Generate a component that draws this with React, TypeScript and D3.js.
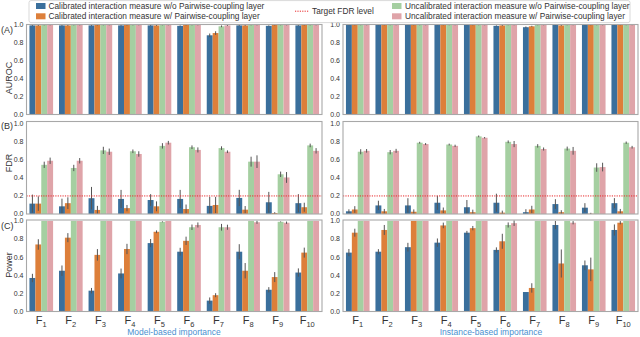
import React from "react";
import * as d3 from "d3";

const categories = ["1","2","3","4","5","6","7","8","9","10"];
const seriesNames = [
  "Calibrated interaction measure w/o Pairwise-coupling layer",
  "Calibrated interaction measure w/ Pairwise-coupling layer",
  "Uncalibrated interaction measure w/o Pairwise-coupling layer",
  "Uncalibrated interaction measure w/ Pairwise-coupling layer",
];
const seriesColors = ["#3a6f9c", "#dd7f3a", "#a5cfa1", "#dfa4a9"];
const yTicks = [0, 0.2, 0.4, 0.6, 0.8, 1.0];
const targetFDR = 0.2;

// Model-based (left) — AUROC
const aurocModel = [
  [0.99,0.99,0.99,0.99,0.99,0.985,0.88,0.99,0.985,0.99],
  [0.99,0.99,0.995,0.995,0.99,0.995,0.905,0.99,0.995,0.995],
  [0.995,0.995,0.995,0.995,0.995,0.995,0.98,0.995,0.995,0.995],
  [0.995,0.995,0.995,0.995,0.995,0.995,0.99,0.995,0.995,0.995],
];
const aurocModelErr = [
  [0.005,0.005,0.005,0.005,0.005,0.005,0.02,0.005,0.005,0.005],
  [0.005,0.005,0.005,0.005,0.005,0.005,0.02,0.005,0.005,0.005],
  [0.004,0.004,0.004,0.004,0.004,0.004,0.01,0.004,0.004,0.004],
  [0.004,0.004,0.004,0.004,0.004,0.004,0.005,0.004,0.004,0.004],
];
// Instance-based (right) — AUROC
const aurocInst = [
  [0.995,0.995,0.995,0.995,0.995,0.985,0.97,0.995,0.995,0.995],
  [0.995,0.995,0.995,0.995,0.995,0.99,0.98,0.99,0.995,0.995],
  [0.995,0.995,0.995,0.995,0.995,0.995,0.995,0.995,0.995,0.995],
  [0.995,0.995,0.995,0.995,0.995,0.995,0.995,0.995,0.995,0.995],
];
const aurocInstErr = [
  [0.004,0.004,0.004,0.004,0.004,0.005,0.008,0.004,0.004,0.004],
  [0.004,0.004,0.004,0.004,0.004,0.005,0.006,0.005,0.004,0.004],
  [0.003,0.003,0.003,0.003,0.003,0.003,0.003,0.003,0.003,0.003],
  [0.003,0.003,0.003,0.003,0.003,0.003,0.003,0.003,0.003,0.003],
];
// FDR
const fdrModel = [
  [0.115,0.085,0.175,0.167,0.155,0.167,0.09,0.178,0.13,0.12],
  [0.115,0.12,0.045,0.065,0.085,0.055,0.1,0.048,0.01,0.075],
  [0.545,0.51,0.705,0.695,0.755,0.74,0.73,0.58,0.44,0.76],
  [0.59,0.59,0.69,0.665,0.79,0.71,0.69,0.58,0.405,0.70],
];
const fdrModelErr = [
  [0.1,0.085,0.125,0.1,0.065,0.1,0.1,0.09,0.115,0.1],
  [0.08,0.065,0.045,0.035,0.055,0.05,0.09,0.04,0.01,0.05],
  [0.035,0.035,0.04,0.02,0.03,0.02,0.02,0.055,0.03,0.02],
  [0.035,0.03,0.035,0.03,0.02,0.028,0.015,0.07,0.06,0.03],
];
const fdrInst = [
  [0.03,0.095,0.095,0.125,0.075,0.125,0.02,0.11,0.07,0.12],
  [0.05,0.03,0.025,0.04,0.02,0.015,0.05,0.02,0.003,0.03],
  [0.69,0.685,0.79,0.77,0.86,0.80,0.755,0.725,0.515,0.79],
  [0.70,0.70,0.775,0.755,0.845,0.775,0.72,0.70,0.52,0.74],
];
const fdrInstErr = [
  [0.022,0.052,0.08,0.078,0.08,0.1,0.033,0.054,0.05,0.056],
  [0.037,0.026,0.026,0.032,0.028,0.022,0.041,0.022,0.01,0.026],
  [0.028,0.024,0.01,0.01,0.01,0.015,0.019,0.022,0.047,0.013],
  [0.02,0.022,0.011,0.013,0.008,0.034,0.017,0.043,0.048,0.015],
];
// Power
const powerModel = [
  [0.37,0.45,0.23,0.42,0.755,0.66,0.12,0.66,0.24,0.43],
  [0.74,0.815,0.625,0.69,0.88,0.78,0.18,0.45,0.38,0.65],
  [1.0,1.0,1.0,1.0,0.99,0.93,0.93,1.0,0.99,1.0],
  [1.0,1.0,1.0,1.0,1.0,0.955,0.93,0.985,0.98,1.0],
];
const powerModelErr = [
  [0.046,0.058,0.03,0.054,0.045,0.043,0.035,0.083,0.029,0.046],
  [0.058,0.05,0.064,0.057,0.015,0.046,0.022,0.085,0.055,0.055],
  [0,0,0,0,0.005,0.03,0.037,0,0.004,0],
  [0,0,0,0,0,0.028,0.028,0.017,0.013,0],
];
const powerInst = [
  [0.65,0.66,0.71,0.76,0.87,0.68,0.215,0.955,0.51,0.90],
  [0.87,0.90,1.0,0.95,0.92,0.775,0.26,0.53,0.465,0.98],
  [1.0,1.0,1.0,1.0,1.0,0.955,1.0,1.0,1.0,1.0],
  [1.0,1.0,1.0,1.0,1.0,0.975,1.0,0.98,1.0,1.0],
];
const powerInstErr = [
  [0.04,0.028,0.048,0.046,0.02,0.028,0,0.045,0.053,0.061],
  [0.044,0.055,0,0.031,0.024,0.083,0.052,0.155,0.13,0.018],
  [0,0,0,0,0,0.028,0,0,0,0],
  [0,0,0,0,0,0.031,0,0.018,0,0],
];

const FONT = "Liberation Sans, Arial, sans-serif";

type PanelProps = {
  x0: number; x1: number; top: number; bottom: number; ymax: number;
  vals: number[][]; errs: number[][]; target?: boolean;
};

function Panel({ x0, x1, top, bottom, ymax, vals, errs, target }: PanelProps) {
  const x = d3.scaleBand<string>().domain(categories).range([x0, x1]).paddingInner(0).paddingOuter(0);
  const y = d3.scaleLinear().domain([0, ymax]).range([bottom, top]);
  const step = x.step();
  const bw = step * 0.2;
  return (
    <g>
      {vals.map((series, si) =>
        series.map((v, ci) => {
          const cx = (x(categories[ci]) as number) + step / 2;
          const bx = cx - step * 0.4 + si * bw;
          const e = errs[si][ci];
          const lo = Math.max(0, v - e), hi = Math.min(ymax, v + e);
          return (
            <g key={si + "-" + ci}>
              <rect x={bx} y={y(v)} width={bw} height={y(0) - y(v)} fill={seriesColors[si]} />
              {e > 0 && (
                <line x1={bx + bw / 2} x2={bx + bw / 2} y1={y(lo)} y2={y(hi)} stroke="#555" strokeWidth={1} />
              )}
            </g>
          );
        })
      )}
      {target && (
        <line x1={x0} x2={x1} y1={y(targetFDR)} y2={y(targetFDR)} stroke="#e8282a" strokeWidth={1} strokeDasharray="1.2,1.2" />
      )}
      <rect x={x0} y={top} width={x1 - x0} height={bottom - top} fill="none" stroke="#a8a8a8" strokeWidth={1.1} />
      {yTicks.map((t) => (
        <text key={t} x={x0 - 3} y={y(t)} dy="0.35em" textAnchor="end" fontSize={7} fill="#333" fontFamily={FONT}>
          {t.toFixed(1)}
        </text>
      ))}
    </g>
  );
}

function XLabels({ x0, x1, yy }: { x0: number; x1: number; yy: number }) {
  const x = d3.scaleBand<string>().domain(categories).range([x0, x1]);
  return (
    <g>
      {categories.map((c) => (
        <text key={c} x={(x(c) as number) + x.step() / 2} y={yy} textAnchor="middle" fontSize={11} fill="#333" fontFamily={FONT}>
          F<tspan fontSize={7.5} dy={2.5}>{c}</tspan>
        </text>
      ))}
    </g>
  );
}

export default function App() {
  const L = [26.5, 322];
  const R = [343, 638];
  const A = { top: 24.5, bottom: 114.5, ymax: 1.0 };
  const B = { top: 121.5, bottom: 214, ymax: 1.025 };
  const C = { top: 220, bottom: 311.5, ymax: 1.01 };
  const fs = 8.3;
  return (
    <svg width={640} height={337} style={{ position: "absolute", left: 0, top: 0, background: "#fff" }}>
      <Panel x0={L[0]} x1={L[1]} {...A} vals={aurocModel} errs={aurocModelErr} />
      <Panel x0={R[0]} x1={R[1]} {...A} vals={aurocInst} errs={aurocInstErr} />
      <Panel x0={L[0]} x1={L[1]} {...B} vals={fdrModel} errs={fdrModelErr} target />
      <Panel x0={R[0]} x1={R[1]} {...B} vals={fdrInst} errs={fdrInstErr} target />
      <Panel x0={L[0]} x1={L[1]} {...C} vals={powerModel} errs={powerModelErr} />
      <Panel x0={R[0]} x1={R[1]} {...C} vals={powerInst} errs={powerInstErr} />

      <XLabels x0={L[0]} x1={L[1]} yy={324} />
      <XLabels x0={R[0]} x1={R[1]} yy={324} />
      <text x={174} y={335} textAnchor="middle" fontSize={8.5} fill="#4a90d0" fontFamily={FONT}>Model-based importance</text>
      <text x={491} y={335} textAnchor="middle" fontSize={8.5} fill="#4a90d0" fontFamily={FONT}>Instance-based importance</text>

      <text x={1} y={33} fontSize={9} fill="#333" fontFamily={FONT}>(A)</text>
      <text x={1} y={129} fontSize={9} fill="#333" fontFamily={FONT}>(B)</text>
      <text x={1} y={229} fontSize={9} fill="#333" fontFamily={FONT}>(C)</text>
      <text transform="translate(12,78) rotate(-90)" textAnchor="middle" fontSize={9} fill="#333" fontFamily={FONT}>AUROC</text>
      <text transform="translate(12,163) rotate(-90)" textAnchor="middle" fontSize={9} fill="#333" fontFamily={FONT}>FDR</text>
      <text transform="translate(12,265) rotate(-90)" textAnchor="middle" fontSize={9} fill="#333" fontFamily={FONT}>Power</text>

      <g>
        <rect x={29} y={0.6} width={601} height={22} rx={2} fill="#fff" fillOpacity={0.9} stroke="#cfcfcf" strokeWidth={0.8} />
        <rect x={36} y={3} width={9.5} height={6} fill={seriesColors[0]} />
        <text x={48.5} y={6} dy="0.35em" fontSize={fs} fill="#333" fontFamily={FONT}>{seriesNames[0]}</text>
        <rect x={36} y={13.3} width={9.5} height={6} fill={seriesColors[1]} />
        <text x={48.5} y={16.3} dy="0.35em" fontSize={fs} fill="#333" fontFamily={FONT}>{seriesNames[1]}</text>
        <line x1={295} x2={308.5} y1={11.2} y2={11.2} stroke="#e8282a" strokeWidth={1} strokeDasharray="1.2,1.2" />
        <text x={312} y={11.2} dy="0.35em" fontSize={fs} fill="#333" fontFamily={FONT}>Target FDR level</text>
        <rect x={392} y={3} width={9.5} height={6} fill={seriesColors[2]} />
        <text x={405} y={6} dy="0.35em" fontSize={fs} fill="#333" fontFamily={FONT}>{seriesNames[2]}</text>
        <rect x={392} y={13.3} width={9.5} height={6} fill={seriesColors[3]} />
        <text x={405} y={16.3} dy="0.35em" fontSize={fs} fill="#333" fontFamily={FONT}>{seriesNames[3]}</text>
      </g>
    </svg>
  );
}
